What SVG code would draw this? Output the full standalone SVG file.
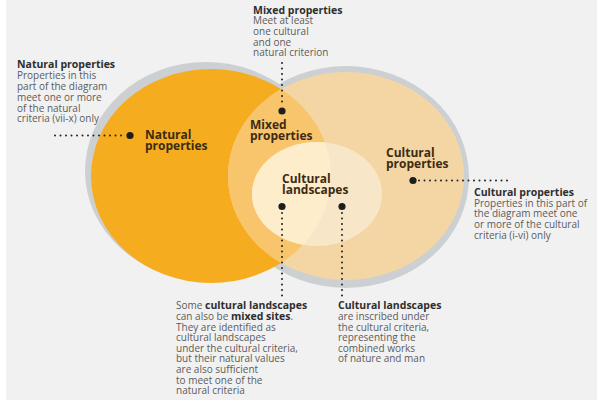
<svg xmlns="http://www.w3.org/2000/svg" width="597" height="403" viewBox="0 0 597 403">
<style>
text{font-family:"Open Sans","Noto Sans","Liberation Sans",sans-serif;}
.h{font-size:10.5px;font-weight:700;fill:#2e2e2e;}
.b{font-size:10px;fill:#5c5c5c;}
.bb{font-weight:700;fill:#2e2e2e;}
.lbl{font-size:12px;font-weight:700;fill:#3d2b14;}
.dots{stroke:#222;stroke-width:2;stroke-linecap:round;stroke-dasharray:0 5.5;fill:none;}
.dot{fill:#1e1e1e;}
</style>
<defs>
<clipPath id="clipNat"><ellipse cx="211" cy="176" rx="120" ry="107"/></clipPath>
<clipPath id="clipCul"><ellipse cx="346" cy="176" rx="118" ry="104"/></clipPath>
</defs>
<rect x="0" y="0" width="597" height="403" fill="#ffffff"/>
<rect x="6" y="0" width="591" height="400" fill="#f1f1f1"/>

<g id="rings">
<ellipse cx="206" cy="171" rx="121" ry="109" fill="#cdd0d2"/>
<ellipse cx="346" cy="177" rx="123" ry="111" fill="#cdd0d2"/>
</g>

<g id="natural">
<ellipse cx="211" cy="176" rx="120" ry="107" fill="#f5ad1f"/>
<text class="lbl" x="145" y="139">Natural</text>
<text class="lbl" x="145" y="150">properties</text>
</g>

<g id="cultural">
<ellipse cx="346" cy="176" rx="118" ry="104" fill="#f4d6a5"/>
<text class="lbl" x="386" y="157">Cultural</text>
<text class="lbl" x="386" y="168">properties</text>
</g>

<g id="mixed">
<ellipse cx="211" cy="176" rx="120" ry="107" fill="#f8c56d" clip-path="url(#clipCul)"/>
<text class="lbl" x="250" y="129">Mixed</text>
<text class="lbl" x="250" y="140">properties</text>
</g>

<g id="landscapes">
<ellipse cx="317" cy="194" rx="65" ry="52" fill="#f8e6c8"/>
<ellipse cx="317" cy="194" rx="65" ry="52" fill="#fdedca" clip-path="url(#clipNat)"/>
<text class="lbl" x="282" y="183">Cultural</text>
<text class="lbl" x="282" y="194">landscapes</text>
</g>

<g id="note-natural">
<text class="h" x="17" y="68">Natural properties</text>
<text class="b" x="17" y="79">Properties in this</text>
<text class="b" x="17" y="90">part of the diagram</text>
<text class="b" x="17" y="100.7">meet one or more</text>
<text class="b" x="17" y="111.5">of the natural</text>
<text class="b" x="17" y="122.2">criteria (vii-x) only</text>
</g>

<g id="note-mixed">
<text class="h" x="253" y="13.5">Mixed properties</text>
<text class="b" x="253" y="24.3">Meet at least</text>
<text class="b" x="253" y="35">one cultural</text>
<text class="b" x="253" y="45.7">and one</text>
<text class="b" x="253" y="56.4">natural criterion</text>
</g>

<g id="note-cultural">
<text class="h" x="474" y="196">Cultural properties</text>
<text class="b" x="474" y="206.7">Properties in this part of</text>
<text class="b" x="474" y="217.4">the diagram meet one</text>
<text class="b" x="474" y="228.1">or more of the cultural</text>
<text class="b" x="474" y="238.8">criteria (i-vi) only</text>
</g>

<g id="note-mixed-landscapes">
<text class="b" x="176" y="309.3">Some <tspan class="bb" font-size="10.5">cultural landscapes</tspan></text>
<text class="b" x="176" y="320">can also be <tspan class="bb" font-size="10.5">mixed sites</tspan>.</text>
<text class="b" x="176" y="330.6">They are identified as</text>
<text class="b" x="176" y="341.2">cultural landscapes</text>
<text class="b" x="176" y="351.8">under the cultural criteria,</text>
<text class="b" x="176" y="362.4">but their natural values</text>
<text class="b" x="176" y="373">are also sufficient</text>
<text class="b" x="176" y="383.6">to meet one of the</text>
<text class="b" x="176" y="394.2">natural criteria</text>
</g>

<g id="note-landscapes">
<text class="h" x="338" y="309.3">Cultural landscapes</text>
<text class="b" x="338" y="320">are inscribed under</text>
<text class="b" x="338" y="330.6">the cultural criteria,</text>
<text class="b" x="338" y="341.2">representing the</text>
<text class="b" x="338" y="351.8">combined works</text>
<text class="b" x="338" y="362.4">of nature and man</text>
</g>

<g id="connectors">
<line class="dots" x1="55" y1="135.5" x2="126" y2="135.5"/>
<circle class="dot" cx="130" cy="135.5" r="3.6"/>
<line class="dots" x1="282" y1="63" x2="282" y2="106"/>
<circle class="dot" cx="282" cy="111" r="3.6"/>
<line class="dots" x1="419" y1="180.5" x2="509" y2="180.5"/>
<circle class="dot" cx="413" cy="180.5" r="3.6"/>
<circle class="dot" cx="282" cy="206.5" r="3.6"/>
<line class="dots" x1="282" y1="213" x2="282" y2="297"/>
<circle class="dot" cx="342" cy="206.5" r="3.6"/>
<line class="dots" x1="342" y1="213" x2="342" y2="297"/>
</g>
</svg>
